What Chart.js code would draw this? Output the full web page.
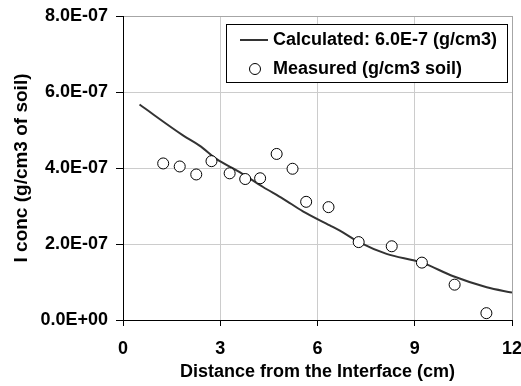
<!DOCTYPE html>
<html>
<head>
<meta charset="utf-8">
<script src="https://cdn.jsdelivr.net/npm/chart.js"></script>
<style>
  body { margin: 0; background: #fff; }
  #wrap { width: 521px; height: 386px; }
</style>
</head>
<body>
<div id="wrap"><canvas id="chart" width="521" height="386"></canvas></div>
<script>
// values (concentration in units of 1E-7 g/cm3)
var calcLabel = 'Calculated: 6.0E-7 (g/cm3)';
var calcX = [0.51, 1.85, 2.36, 2.88, 3.60, 4.32, 4.94, 5.55, 6.38, 6.69, 7.28, 8.13, 9.22, 10.19, 11.22, 12.0];
var calcY = [5.67, 4.86, 4.59, 4.24, 3.89, 3.50, 3.19, 2.86, 2.49, 2.35, 2.05, 1.74, 1.51, 1.15, 0.86, 0.72];

var measLabel = 'Measured (g/cm3 soil)';
var measX = [1.24, 1.75, 2.26, 2.73, 3.29, 3.77, 4.23, 4.74, 5.23, 5.65, 6.34, 7.27, 8.29, 9.22, 10.23, 11.21];
var measY = [4.12, 4.04, 3.83, 4.18, 3.86, 3.71, 3.73, 4.37, 3.98, 3.11, 2.97, 2.05, 1.94, 1.51, 0.93, 0.18];

var xTicks = [0, 3, 6, 9, 12];
var yTicks = [0, 2e-7, 4e-7, 6e-7, 8e-7];

var fontFamily = '"Liberation Sans", Arial, sans-serif';
var lineColor = '#333333';

function toPoints(xs, ys) {
    return xs.map((x, i) => ({ x: x, y: ys[i] * 1e-7 }));
}

function sciLabel(v) {
    var s = Number(v).toExponential(1).toUpperCase();   // 8.0E-7
    var m = s.match(/^(.*)E([+-])(\d+)$/);
    if (!m) return s;
    return m[1] + 'E' + m[2] + (m[3].length < 2 ? '0' + m[3] : m[3]);
}

// boxed legend drawn inside the plot, like the original
var boxLegend = {
    id: 'boxLegend',
    afterDraw: function (chart) {
        var ctx = chart.ctx;
        var ds = chart.data.datasets;
        var calc = ds.find(d => d.id === 'calc');
        var meas = ds.find(d => d.id === 'meas');
        ctx.save();
        ctx.fillStyle = '#fff';
        ctx.fillRect(226, 24, 282, 58);
        ctx.strokeStyle = '#000';
        ctx.lineWidth = 1;
        ctx.strokeRect(226.5, 24.5, 281, 58);

        ctx.strokeStyle = lineColor;
        ctx.lineWidth = 2;
        ctx.beginPath();
        ctx.moveTo(240, 40);
        ctx.lineTo(268, 40);
        ctx.stroke();

        ctx.beginPath();
        ctx.arc(255, 69, 5.5, 0, Math.PI * 2);
        ctx.fillStyle = '#fff';
        ctx.fill();
        ctx.strokeStyle = '#000';
        ctx.lineWidth = 1;
        ctx.stroke();

        ctx.fillStyle = '#000';
        ctx.font = 'bold 18px ' + fontFamily;
        ctx.textBaseline = 'middle';
        ctx.textAlign = 'left';
        ctx.fillText(calc.label, 273, 40);
        ctx.fillText(meas.label, 273, 69);
        ctx.restore();
    }
};

var ctx = document.getElementById('chart').getContext('2d');
var chart = new Chart(ctx, {
    type: 'scatter',
    data: {
        datasets: [{
            id: 'meas',
            label: measLabel,
            data: toPoints(measX, measY),
            showLine: false,
            pointRadius: 5.5,
            pointBackgroundColor: '#fff',
            pointBorderColor: '#000',
            pointBorderWidth: 1,
            order: 0
        }, {
            id: 'calc',
            label: calcLabel,
            data: toPoints(calcX, calcY),
            showLine: true,
            borderColor: lineColor,
            borderWidth: 2,
            pointRadius: 0,
            cubicInterpolationMode: 'monotone',
            order: 1
        }]
    },
    options: {
        responsive: false,
        animation: false,
        layout: { padding: { top: 16, right: 9, left: 0, bottom: 0 } },
        plugins: {
            legend: { display: false },
            tooltip: { enabled: false }
        },
        scales: {
            x: {
                type: 'linear',
                min: 0,
                max: 12,
                afterBuildTicks: function (scale) {
                    scale.ticks = xTicks.map(v => ({ value: v }));
                },
                afterFit: function (scale) {
                    scale.height = 66;
                    scale.paddingLeft = 0;
                    scale.paddingRight = 0;
                },
                grid: {
                    color: c => c.tick && c.tick.value === 12 ? '#a6a6a6' : '#cccccc',
                    tickColor: '#000',
                    tickLength: 6
                },
                border: { color: '#000', width: 1 },
                ticks: {
                    color: '#000',
                    padding: 12,
                    maxRotation: 0,
                    font: { family: fontFamily, size: 18, weight: 'bold' }
                },
                title: {
                    display: true,
                    text: 'Distance from the Interface (cm)',
                    color: '#000',
                    padding: { top: 0, bottom: 3 },
                    font: { family: fontFamily, size: 18, weight: 'bold' }
                }
            },
            y: {
                type: 'linear',
                min: 0,
                max: 8e-7,
                afterBuildTicks: function (scale) {
                    scale.ticks = yTicks.map(v => ({ value: v }));
                },
                afterFit: function (scale) {
                    scale.width = 123;
                    scale.paddingTop = 0;
                    scale.paddingBottom = 0;
                },
                grid: {
                    color: c => c.tick && c.tick.value === 8e-7 ? '#a6a6a6' : '#cccccc',
                    tickColor: '#000',
                    tickLength: 7
                },
                border: { color: '#000', width: 1 },
                ticks: {
                    color: '#000',
                    padding: 8,
                    callback: v => sciLabel(v),
                    font: { family: fontFamily, size: 18, weight: 'bold' }
                },
                title: {
                    display: true,
                    text: 'I conc (g/cm3 of soil)',
                    color: '#000',
                    padding: { top: 10, bottom: 0 },
                    font: { family: fontFamily, size: 19, weight: 'bold' }
                }
            }
        }
    },
    plugins: [boxLegend]
});
</script>
</body>
</html>
